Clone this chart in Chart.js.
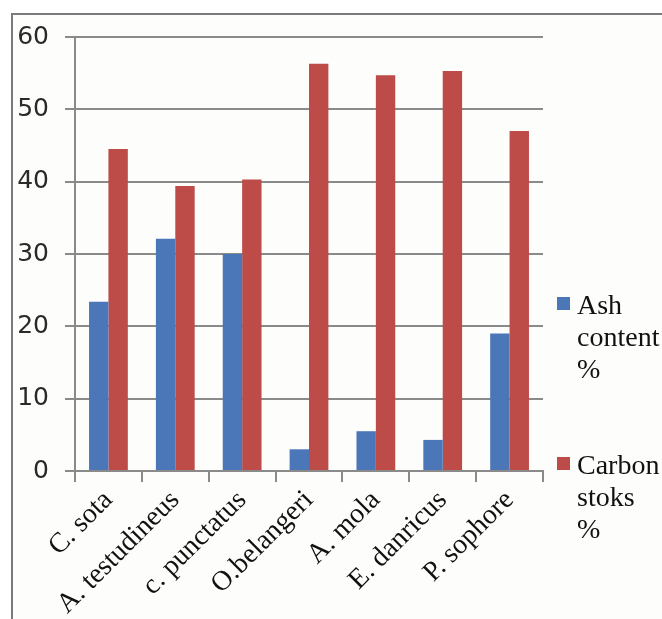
<!DOCTYPE html>
<html lang="en">
<head>
    <meta charset="UTF-8">
    <title>Ash content and carbon stocks</title>
    <script src="https://cdn.jsdelivr.net/npm/chart.js"></script>
    <style>
        body { margin: 0; background: #ffffff; }
        #frame {
            position: absolute;
            left: 11px;
            top: 13px;
            width: 651px;
            height: 606px;
            border-top: 2px solid #7a7a7a;
            border-left: 2px solid #7a7a7a;
            background: #fdfdfb;
        }
        #chartContainer {
            position: absolute;
            left: 0;
            top: 0;
            width: 662px;
            height: 619px;
        }
    </style>
</head>
<body>
    <div id="frame"></div>
    <div id="chartContainer">
        <canvas id="myChart" width="662" height="619"></canvas>
    </div>

    <script>
        // data
        const species = ['C. sota', 'A. testudineus', 'c. punctatus', 'O.belangeri', 'A. mola', 'E. danricus', 'P. sophore'];
        const ashContent = [23.4, 32.1, 30.0, 3.0, 5.5, 4.3, 19.0];
        const carbonStocks = [44.5, 39.4, 40.3, 56.3, 54.7, 55.3, 47.0];
        const yTicks = [0, 10, 20, 30, 40, 50, 60];

        const gridColor = '#8a8a8a';

        // legend on the right, one word per line
        const sideLegend = {
            id: 'sideLegend',
            afterDraw(chart) {
                const ctx = chart.ctx;
                const tops = [294, 454];
                ctx.save();
                ctx.font = '28px "Liberation Serif", "Times New Roman", serif';
                ctx.textBaseline = 'alphabetic';
                ctx.textAlign = 'left';
                chart.data.datasets.forEach((ds, i) => {
                    const y0 = tops[i];
                    ctx.fillStyle = ds.backgroundColor;
                    ctx.fillRect(557, y0 + 3, 13, 13);
                    ctx.fillStyle = '#111111';
                    ds.label.split(' ').forEach((word, j) => {
                        ctx.fillText(word, 577, y0 + 20 + j * 32);
                    });
                });
                ctx.restore();
            }
        };

        const ctx = document.getElementById('myChart').getContext('2d');
        const myChart = new Chart(ctx, {
            type: 'bar',
            data: {
                labels: species,
                datasets: [{
                    label: 'Ash content %',
                    data: ashContent,
                    backgroundColor: '#4b76b7',
                    categoryPercentage: 0.58,
                    barPercentage: 1.0
                }, {
                    label: 'Carbon stoks %',
                    data: carbonStocks,
                    backgroundColor: '#bd4b48',
                    categoryPercentage: 0.58,
                    barPercentage: 1.0
                }]
            },
            options: {
                responsive: false,
                animation: false,
                layout: {
                    padding: { top: 37, right: 119, left: 0, bottom: 0 }
                },
                plugins: {
                    legend: { display: false },
                    tooltip: { enabled: false }
                },
                scales: {
                    x: {
                        grid: {
                            offset: true,
                            drawOnChartArea: false,
                            drawTicks: true,
                            tickLength: 11,
                            color: gridColor,
                            lineWidth: 2
                        },
                        border: { display: true, color: gridColor, width: 2 },
                        ticks: {
                            minRotation: 45,
                            maxRotation: 45,
                            padding: 2,
                            color: '#111111',
                            font: { family: '"Liberation Serif", "Times New Roman", serif', size: 28 }
                        },
                        afterFit(scale) { scale.height = 148; }
                    },
                    y: {
                        min: 0,
                        max: 60,
                        afterBuildTicks(scale) {
                            scale.ticks = yTicks.map(v => ({ value: v }));
                        },
                        grid: {
                            color: gridColor,
                            lineWidth: 2,
                            drawTicks: true,
                            tickLength: 10
                        },
                        border: { display: true, color: gridColor, width: 2 },
                        ticks: {
                            padding: 16,
                            color: '#2a2a2a',
                            font: { family: '"DejaVu Sans", Verdana, sans-serif', size: 25 }
                        },
                        afterFit(scale) { scale.width = 75; }
                    }
                }
            },
            plugins: [sideLegend]
        });
    </script>
</body>
</html>
